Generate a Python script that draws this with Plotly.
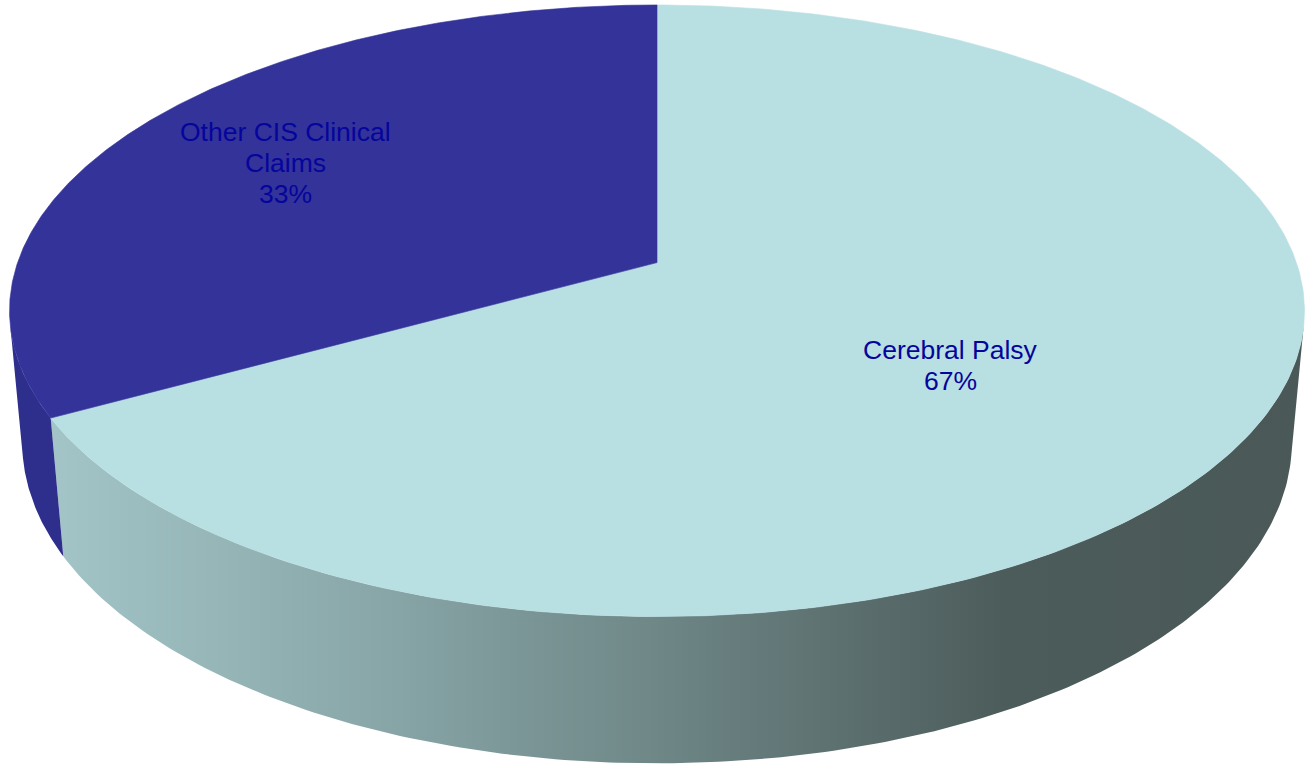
import numpy as np
import plotly.graph_objects as go

# Share of CIS clinical claims by type
categories = ["Cerebral Palsy", "Other CIS Clinical Claims"]
shares = [67, 33]
label_lines = [["Cerebral Palsy"], ["Other CIS Clinical", "Claims"]]

# Slice styling
top_colors = ["#b8dfe2", "#333399"]
side_colors = [None, "#2e2e8c"]
side_gradient = [[0.0, "#a3c5c7"], [0.25, "#8aa8aa"], [0.48, "#6f8787"],
                 [0.76, "#4c5c5b"], [1.0, "#4a5958"]]
label_radius = [0.545, 0.707]
label_nudge_deg = [6.5, -0.7]
text_color = "#05059c"
font_size = 26.5
line_gap = 31

W, H = 1307, 771

# Perspective camera for the 3-D disc (unit radius)
elev = np.radians(27.8)
ce, se = np.cos(elev), np.sin(elev)
dist = 6.35 * ce
thick = 0.236
scale = 3591.6
cx, cy = 657.0, 262.6


def project(theta, r=1.0, z=0.0):
    """theta: radians clockwise from the back (12 o'clock)."""
    theta = np.asarray(theta, dtype=float)
    X = r * np.sin(theta)
    Y = r * np.cos(theta)
    depth = dist + Y * ce - z * se
    sx = X / depth
    sy = (Y * se + z * ce) / depth
    return cx + scale * sx, cy - scale * sy


# Slice angles from the data (start at 12 o'clock, clockwise)
total = float(sum(shares))
bounds = np.concatenate([[0.0], np.cumsum(shares) / total * 2 * np.pi])

# Visible part of the rim: outward normal facing the camera
vis_lo = np.arccos(-1.0 / (dist * ce))
vis_hi = 2 * np.pi - vis_lo

fig = go.Figure()

# Rim (side) faces
for i in range(len(shares)):
    a0, a1 = max(bounds[i], vis_lo), min(bounds[i + 1], vis_hi)
    if a1 <= a0:
        continue
    th = np.linspace(a0, a1, 200)
    xt, yt = project(th, 1.0, 0.0)
    xb, yb = project(th[::-1], 1.0, -thick)
    xs = np.concatenate([xt, xb, xt[:1]])
    ys = np.concatenate([yt, yb, yt[:1]])
    kw = dict(x=xs, y=ys, mode="lines", fill="toself",
              line=dict(width=0, color="rgba(0,0,0,0)"),
              hoverinfo="skip", showlegend=False)
    if side_colors[i] is None:
        kw["fillgradient"] = dict(type="horizontal", colorscale=side_gradient,
                                  start=50, stop=1307)
    else:
        kw["fillcolor"] = side_colors[i]
    fig.add_trace(go.Scatter(**kw))

# Top faces
for i in range(len(shares)):
    th = np.linspace(bounds[i], bounds[i + 1], 400)
    xa, ya = project(th, 1.0, 0.0)
    ox, oy = project(0.0, 0.0, 0.0)
    xs = np.concatenate([[ox], xa, [ox]])
    ys = np.concatenate([[oy], ya, [oy]])
    fig.add_trace(go.Scatter(
        x=xs, y=ys, mode="lines", fill="toself", fillcolor=top_colors[i],
        line=dict(width=0.6, color=top_colors[i]),
        hoverinfo="skip", showlegend=False))

# Data labels
for i in range(len(shares)):
    mid = (bounds[i] + bounds[i + 1]) / 2 + np.radians(label_nudge_deg[i])
    lx, ly = project(mid, label_radius[i], 0.0)
    lines = label_lines[i] + [f"{shares[i]}%"]
    n = len(lines)
    for j, txt in enumerate(lines):
        fig.add_annotation(
            x=float(lx), y=float(ly + (j - (n - 1) / 2) * line_gap),
            xref="x", yref="y", text=txt, showarrow=False,
            xanchor="center", yanchor="middle",
            font=dict(family="Liberation Sans, Arial, sans-serif",
                      size=font_size, color=text_color))

fig.update_layout(
    width=W, height=H,
    margin=dict(l=0, r=0, t=0, b=0),
    paper_bgcolor="white", plot_bgcolor="white",
    xaxis=dict(range=[0, W], visible=False, fixedrange=True),
    yaxis=dict(range=[H, 0], visible=False, fixedrange=True),
)

fig.write_html("out.html")
